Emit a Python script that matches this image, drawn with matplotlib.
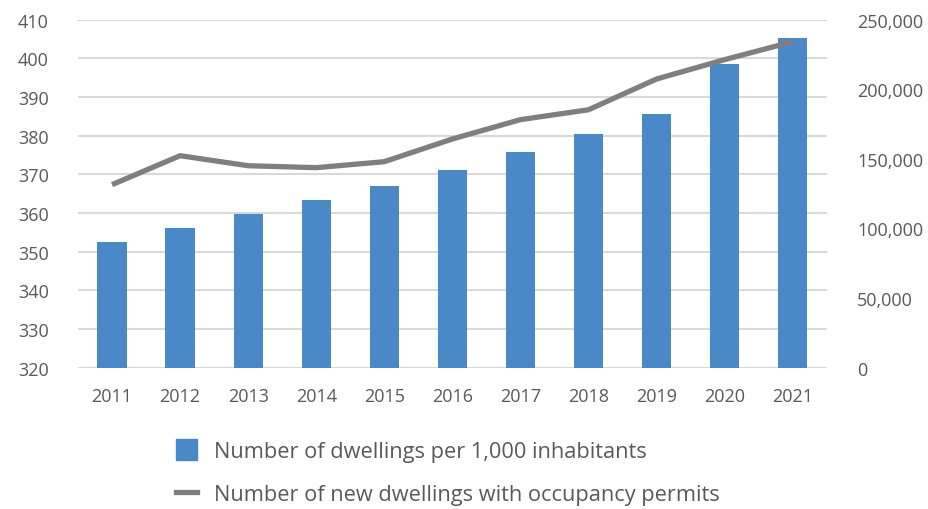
import numpy as np
import matplotlib
matplotlib.use('Agg')
import matplotlib.pyplot as plt
from matplotlib.ticker import FuncFormatter
from matplotlib.patches import Patch
from matplotlib.lines import Line2D

plt.rcParams['font.family'] = ['Open Sans', 'DejaVu Sans']

# data
years = ['2011', '2012', '2013', '2014', '2015', '2016', '2017', '2018', '2019', '2020', '2021']
dwellings_per_1000 = [352.5, 356.1, 359.7, 363.3, 366.9, 371.1, 375.8, 380.4, 385.6, 398.5, 405.3]
new_dwellings = [131500, 152300, 145100, 143700, 148000, 164300, 178200, 185300, 207400, 221300, 234200]
bar_label = 'Number of dwellings per 1,000 inhabitants'
line_label = 'Number of new dwellings with occupancy permits'

bar_color = '#4a89c8'
line_color = '#7f7f7f'
text_color = '#595959'
grid_color = '#d9d9d9'

fig = plt.figure(figsize=(9.29, 5.10), dpi=100)
ax = fig.add_axes([78/929, 1 - 368.7/510, (826.7-78)/929, (368.7-20.7)/510])
x = np.arange(len(years))

ax.bar(x, np.array(dwellings_per_1000) - 320, bottom=320, width=0.43, color=bar_color, zorder=2)
ax.set_ylim(320, 410)
ax.set_yticks(np.arange(320, 411, 10))
ax.set_xlim(-0.5, len(years) - 0.5)
ax.set_xticks(x)
ax.set_xticklabels(years)
ax.grid(axis='y', color=grid_color, linewidth=1.5, zorder=0)
ax.set_axisbelow(True)

ax2 = ax.twinx()
ax2.plot(x, new_dwellings, color=line_color, linewidth=3.8, solid_capstyle='butt', zorder=3)
ax2.set_ylim(0, 250000)
ax2.set_yticks(np.arange(0, 250001, 50000))
ax2.yaxis.set_major_formatter(FuncFormatter(lambda v, p: f'{int(v):,}'))

for a in (ax, ax2):
    for s in a.spines.values():
        s.set_visible(False)
    a.tick_params(length=0, labelsize=13, colors=text_color)
ax.tick_params(axis='x', pad=14)
ax.tick_params(axis='y', pad=21)
ax2.tick_params(axis='y', pad=22)

handles = [Patch(color=bar_color), Line2D([], [], color=line_color, linewidth=3.8)]
fig.legend(handles, [bar_label, line_label], loc='upper left', bbox_to_anchor=(176/929, 1 - 440/510),
           frameon=False, fontsize=15.7, labelcolor=text_color, handlelength=0.95, handleheight=1.1,
           handletextpad=0.8, labelspacing=0.95, borderpad=0, borderaxespad=0)

fig.savefig('out.png', dpi=100)
